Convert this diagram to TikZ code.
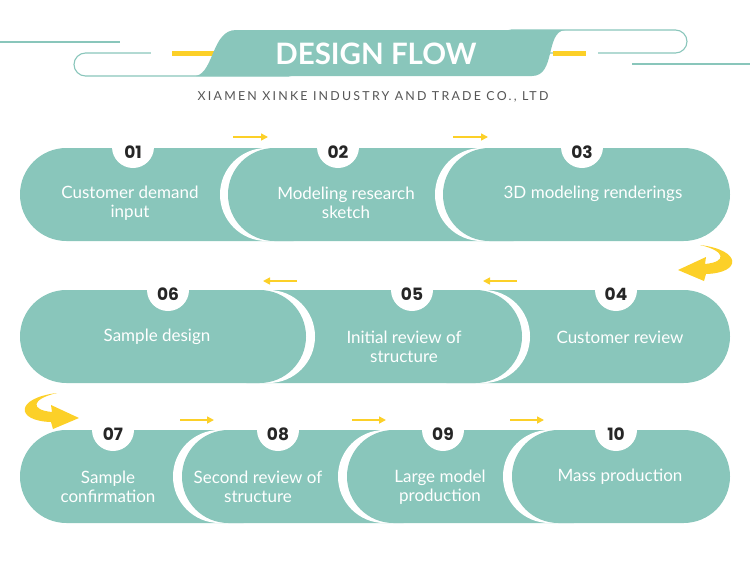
\documentclass[tikz,border=0pt]{standalone}
\usepackage{fontspec}
\setmainfont{Lato}
\newfontfamily\numfont{Poppins}
\newfontfamily\subfont[LetterSpace=18]{Lato}
\usetikzlibrary{arrows.meta}
\definecolor{tealc}{RGB}{137,198,187}
\definecolor{yel}{RGB}{252,208,40}
\definecolor{numc}{RGB}{38,38,38}
\definecolor{subc}{RGB}{85,85,85}
\newcommand\pill[3]{\fill[tealc, rounded corners=46.4pt] (#1,#3) rectangle (#2,#3+93);}
\newcommand\halo[3]{\fill[white, rounded corners=46.4pt] (#1,#3) rectangle (#2,#3+93);}
\newcommand\disc[2]{\fill[white] (#1,#2) circle (21);}
\begin{document}
\begin{tikzpicture}[x=1pt,y=-1pt,
  lbl/.style={text=white, align=center, font=\fontsize{17}{19.5}\selectfont, inner sep=0},
  num/.style={text=numc, font=\numfont\bfseries\fontsize{17}{17}\selectfont, inner sep=0},
  flow/.style={draw=yel, line width=1.6pt, -{Triangle[length=7pt,width=7pt]}},
  hline/.style={draw=tealc, line width=1.8pt},
  outl/.style={draw=tealc, line width=1.1pt, fill=white, rounded corners=11.5pt},
  ybar/.style={fill=yel}]
\useasboundingbox (0,0) rectangle (750,560);
% ---------- header ----------
\draw[hline] (0,42) -- (120,42);
\draw[hline] (632,64) -- (750,64);
\draw[outl] (74,53) rectangle (300,76);
\draw[outl] (500,30) rectangle (687,53);
\fill[white] (151,51) rectangle (172,55);
\fill[ybar] (172,50.5) rectangle (215,55.5);
\fill[white] (586,51) rectangle (598,55);
\fill[ybar] (553,50.5) rectangle (586,55.5);
\fill[tealc] (196,76) .. controls (214,72) and (212,30) .. (236,30)
  -- (565,30) .. controls (545,32) and (556,76) .. (532,76) -- cycle;
\node[text=white, font=\bfseries\fontsize{29.5}{30}\selectfont, inner sep=0] (title) at (376,54) {DESIGN FLOW};
\node[text=subc, font=\subfont\fontsize{12.4}{13}\selectfont, inner sep=0] (sub) at (373,97) {XIAMEN XINKE INDUSTRY AND TRADE CO., LTD};
% ---------- row 1 ----------
\pill{20}{340}{148}
\halo{220}{520}{148}
\pill{228}{560}{148}
\halo{435}{700}{148}
\pill{443}{730}{148}
\disc{133}{147}\disc{338}{147}\disc{582}{147}
\node[num] (n1) at (133,152) {01};
\node[num] (n2) at (338,152) {02};
\node[num] (n3) at (582,152) {03};
\node[lbl] (t1) at (130,203) {Customer demand\\input};
\node[lbl] (t2) at (346,203) {Modeling research\\sketch};
\node[lbl] (t3) at (593,194) {3D modeling renderings};
\coordinate (a1s) at (233,137); \coordinate (a1e) at (268,137);
\coordinate (a2s) at (453,137); \coordinate (a2e) at (488,137);
\draw[flow] (a1s) -- (a1e);
\draw[flow] (a2s) -- (a2e);
% ---------- row 2 ----------
\pill{400}{730}{290}
\halo{228}{530}{290}
\pill{200}{522}{290}
\halo{60}{315}{290}
\pill{20}{306}{290}
\disc{168}{290}\disc{412}{290}\disc{616}{290}
\node[num] (n6) at (168,294) {06};
\node[num] (n5) at (412,294) {05};
\node[num] (n4) at (616,294) {04};
\node[lbl] (t6) at (157,337) {Sample design};
\node[lbl] (t5) at (404,347) {Initial review of\\structure};
\node[lbl] (t4) at (620,337) {Customer review};
\coordinate (a3s) at (297,281); \coordinate (a3e) at (263,281);
\coordinate (a4s) at (517,281); \coordinate (a4e) at (483,281);
\draw[flow] (a3s) -- (a3e);
\draw[flow] (a4s) -- (a4e);
% ---------- row 3 ----------
\pill{20}{290}{430}
\halo{173}{440}{430}
\pill{182}{450}{430}
\halo{338}{600}{430}
\pill{347}{620}{430}
\halo{503}{700}{430}
\pill{512}{730}{430}
\disc{113}{430}\disc{278}{430}\disc{443}{430}\disc{616}{430}
\node[num] (n7) at (113,434) {07};
\node[num] (n8) at (278,434) {08};
\node[num] (n9) at (443,434) {09};
\node[num] (n10) at (616,434) {10};
\node[lbl] (t7) at (108,487) {Sample\\confirmation};
\node[lbl] (t8) at (258,487) {Second review of\\structure};
\node[lbl] (t9) at (440,487) {Large model\\production};
\node[lbl] (t10) at (620,477) {Mass production};
\coordinate (a5s) at (180,420); \coordinate (a5e) at (214,420);
\coordinate (a6s) at (352,420); \coordinate (a6e) at (386,420);
\coordinate (a7s) at (510,420); \coordinate (a7e) at (544,420);
\draw[flow] (a5s) -- (a5e);
\draw[flow] (a6s) -- (a6e);
\draw[flow] (a7s) -- (a7e);
% ---------- turn arrows ----------
\fill[yel] (700,245) .. controls (742,250) and (742,273) .. (706,274)
  -- (704,281) -- (678,270) -- (706,257) -- (705,264)
  .. controls (727,262) and (726,251) .. (700,245) -- cycle;
\fill[yel] (57,393) .. controls (15,398) and (15,421) .. (51,422)
  -- (53,429) -- (79,418) -- (51,405) -- (52,412)
  .. controls (30,410) and (31,399) .. (57,393) -- cycle;
\end{tikzpicture}
\end{document}
